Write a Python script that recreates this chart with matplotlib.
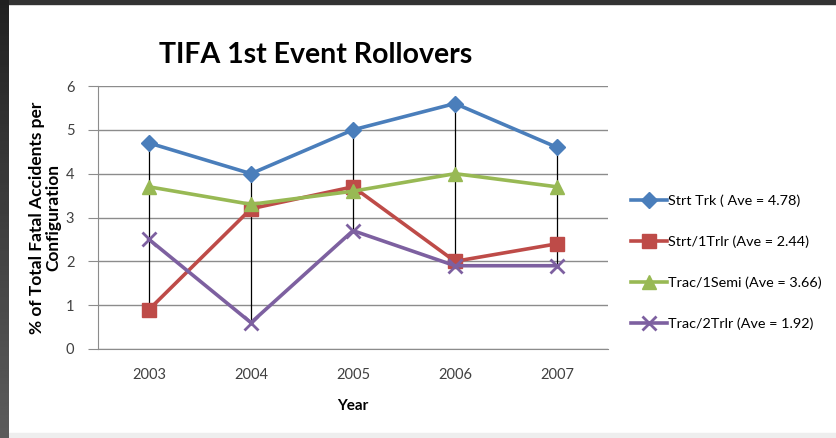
import numpy as np
import matplotlib.pyplot as plt
from matplotlib.patches import Rectangle

years = ['2003', '2004', '2005', '2006', '2007']
strt_trk = [4.7, 4.0, 5.0, 5.6, 4.6]
strt_1trlr = [0.9, 3.2, 3.7, 2.0, 2.4]
trac_1semi = [3.7, 3.3, 3.6, 4.0, 3.7]
trac_2trlr = [2.5, 0.6, 2.7, 1.9, 1.9]

labels = ['Strt Trk ( Ave = 4.78)', 'Strt/1Trlr (Ave = 2.44)',
          'Trac/1Semi (Ave = 3.66)', 'Trac/2Trlr (Ave = 1.92)']
colors = ['#4A7EBB', '#BE4B48', '#98B954', '#7D60A0']
markers = ['D', 's', '^', 'x']
msizes = [8, 10, 10, 10]

plt.rcParams['font.family'] = ['Lato', 'DejaVu Sans']

fig = plt.figure(figsize=(8.36, 4.38), dpi=100)
fig.patch.set_facecolor('white')

# dark gradient strip on the left edge, dark line on top, light strip at bottom
band = fig.add_axes([0, 0, 9 / 836, 1])
band.imshow(np.linspace(0.13, 0.36, 200).reshape(-1, 1), cmap='gray',
            vmin=0, vmax=1, aspect='auto')
band.axis('off')
fig.add_artist(Rectangle((0, 1 - 4 / 438), 1, 4 / 438, transform=fig.transFigure,
                         color='#333333', zorder=0))
fig.add_artist(Rectangle((9 / 836, 0), 1, 5 / 438, transform=fig.transFigure,
                         color='#eeeeee', zorder=0))

ax = fig.add_axes([98 / 836, 1 - 349 / 438, 510 / 836, 263 / 438])
x = np.arange(len(years))
series = [strt_trk, strt_1trlr, trac_1semi, trac_2trlr]

# high-low lines across all series
data = np.array(series)
ax.vlines(x, data.min(axis=0), data.max(axis=0), color='black', lw=0.9, zorder=2)

for vals, lab, c, m, ms in zip(series, labels, colors, markers, msizes):
    ax.plot(x, vals, color=c, lw=2.6, marker=m, ms=ms, mew=2 if m == 'x' else 1,
            mec=c, mfc=c, label=lab, zorder=3)

ax.set_xlim(-0.5, len(years) - 0.5)
ax.set_ylim(0, 6)
ax.set_yticks(range(7))
ax.set_xticks(x)
ax.set_xticklabels(years)
ax.yaxis.grid(True, color='#8c8c8c', lw=1)
ax.set_axisbelow(True)
for s in ['top', 'right']:
    ax.spines[s].set_visible(False)
for s in ['left', 'bottom']:
    ax.spines[s].set_color('#8c8c8c')
ax.tick_params(axis='y', length=7, color='#8c8c8c', labelsize=10.5,
               labelcolor='#404040', pad=10)
ax.tick_params(axis='x', length=0, labelsize=10.5, labelcolor='#404040', pad=14)

ax.set_xlabel('Year', fontsize=11, fontweight='bold', labelpad=12)
ax.set_ylabel('% of Total Fatal Accidents per\nConfiguration', fontsize=12.5,
              fontweight='bold', linespacing=1.0)
ax.yaxis.set_label_coords(-0.072, 0.5)

fig.text(316 / 836, 1 - 55 / 438, 'TIFA 1st Event Rollovers', fontsize=20.5,
         fontweight='bold', ha='center', va='center')

ax.legend(loc='center left', bbox_to_anchor=(1.02, 0.33), frameon=False,
          fontsize=10.4, labelspacing=1.97, handlelength=2.5, handletextpad=0.05)

fig.savefig('out.png', dpi=100)
